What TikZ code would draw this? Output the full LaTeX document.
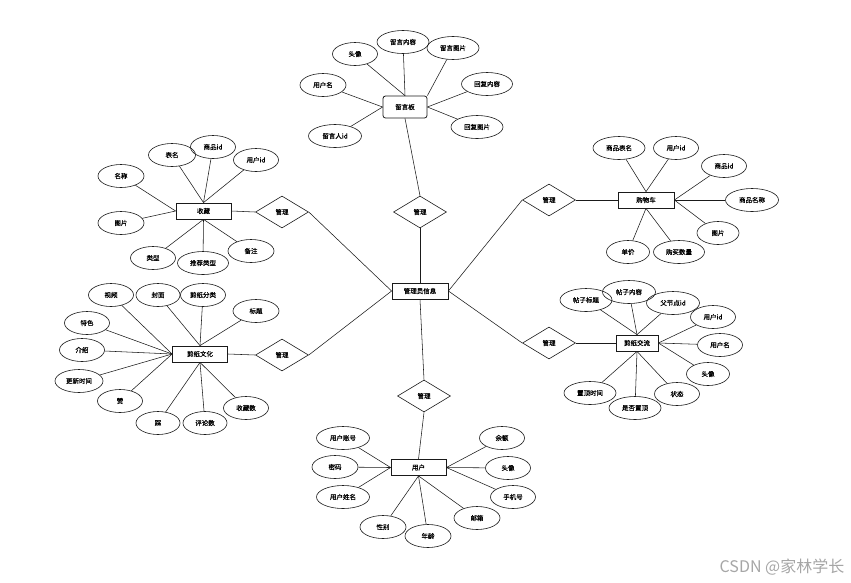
\documentclass[tikz,border=0pt]{standalone}
\usepackage{fontspec}
\newfontfamily\cjk{Noto Sans CJK SC}
\newfontfamily\cjkb[FakeBold=0.6]{Noto Sans CJK SC}
\usetikzlibrary{shapes.geometric}
\definecolor{cEdge}{HTML}{1A1A1A}
\definecolor{cMark}{HTML}{A6A6A6}
\newcommand{\erfont}{\cjkb\fontsize{6.5}{7}\selectfont}
\tikzset{
  ent/.style={draw=cEdge, line width=0.8pt, minimum width=55pt, minimum height=16pt,
              inner sep=0pt, font=\erfont},
  rel/.style={draw=cEdge, diamond, line width=0.6pt, minimum width=53pt,
              minimum height=32pt, inner sep=0pt, font=\erfont},
  attr/.style={draw=cEdge, ellipse, line width=0.6pt, minimum width=45pt,
               minimum height=23pt, inner sep=0pt, font=\erfont},
  link/.style={draw=cEdge, line width=0.55pt},
}

\begin{document}
\begin{tikzpicture}[x=1pt, y=-1pt]
\useasboundingbox (0,0) rectangle (851,582);

% ========== ENTITIES ==========
\node[ent, minimum width=56pt] (admin) at (420,291) {管理员信息};
\node[ent, rounded corners=2.5pt, minimum width=44pt, minimum height=22pt] (msg) at (405,107) {留言板};
\node[ent] (fav)  at (203.5,211) {收藏};
\node[ent, minimum width=56pt] (cart) at (646,200) {购物车};
\node[ent] (art)  at (200,354) {剪纸文化};
\node[ent, minimum width=42pt] (talk) at (637,343) {剪纸交流};
\node[ent] (user) at (418.5,467.5) {用户};

% ========== RELATIONS ==========
\node[rel] (rMsg)  at (420,212) {管理};
\node[rel] (rFav)  at (282,212) {管理};
\node[rel] (rArt)  at (282,355) {管理};
\node[rel] (rCart) at (549,200) {管理};
\node[rel] (rTalk) at (549,343) {管理};
\node[rel] (rUser) at (424,396) {管理};

\draw[link] (admin.north) -- (rMsg.south);
\draw[link] (rMsg.north)  -- (msg.south);
\draw[link] (admin.west)  -- (rFav.east);
\draw[link] (rFav.west)   -- (fav.east);
\draw[link] (admin.west)  -- (rArt.east);
\draw[link] (rArt.west)   -- (art.east);
\draw[link] (admin.east)  -- (rCart.west);
\draw[link] (rCart.east)  -- (cart.west);
\draw[link] (admin.east)  -- (rTalk.west);
\draw[link] (rTalk.east)  -- (talk.west);
\draw[link] (admin.south) -- (rUser.north);
\draw[link] (rUser.south) -- (user.north);

% ========== ATTRIBUTES ==========
% 留言板
\foreach \x/\y/\w/\t/\a [count=\i] in {355/54/45/头像/north, 403/42/52/留言内容/north,
    453/48/52/留言图片/north east, 487/84/51/回复内容/east, 477/127/52/回复图片/east,
    323/85/46/用户名/west, 335/136/53/留言人id/west} {
  \node[attr, minimum width=\w pt] (msgA\i) at (\x,\y) {\t};
  \draw[link] (msg.\a) -- (msgA\i);
}

% 收藏
\foreach \x/\y/\w/\t/\a [count=\i] in {172/155/47/表名/north, 213/147/45/商品id/north,
    256/160/45/用户id/north, 121/176/46/名称/west, 121/223/46/图片/west,
    153/258/45/类型/south, 203/263/51/推荐类型/south, 251/251/46/备注/south} {
  \node[attr, minimum width=\w pt] (favA\i) at (\x,\y) {\t};
  \draw[link] (fav.\a) -- (favA\i);
}

% 购物车
\foreach \x/\y/\w/\t/\a [count=\i] in {619/148/52/商品表名/north, 676/148/45/用户id/north,
    724/166/45/商品id/east, 752/200/53/商品名称/east, 718/233/42/图片/east,
    628/252/43/单价/south, 679/252/51/购买数量/south} {
  \node[attr, minimum width=\w pt] (cartA\i) at (\x,\y) {\t};
  \draw[link] (cart.\a) -- (cartA\i);
}

% 剪纸文化
\foreach \x/\y/\w/\t/\a [count=\i] in {111/295/45/视频/west, 158/295/44/封面/north,
    203/295/45/剪纸分类/north, 256/311/46/标题/north, 87/323/45/特色/west,
    82/350/45/介绍/west, 79/381/48/更新时间/west, 120/401/45/赞/west,
    158/423/44/踩/south, 205/423/44/评论数/south, 246/408/45/收藏数/south} {
  \node[attr, minimum width=\w pt] (artA\i) at (\x,\y) {\t};
  \draw[link] (art.\a) -- (artA\i);
}

% 剪纸交流
\foreach \x/\y/\w/\t/\a [count=\i] in {586/300/52/帖子标题/north, 629/292/53/帖子内容/north,
    673/303/53/父节点id/north, 713/317/45/用户id/east, 720/345/45/用户名/east,
    708/374/43/头像/east, 590/393/52/置顶时间/south, 635/408/52/是否置顶/south,
    677/394/45/状态/south} {
  \node[attr, minimum width=\w pt] (talkA\i) at (\x,\y) {\t};
  \draw[link] (talk.\a) -- (talkA\i);
}

% 用户
\foreach \x/\y/\w/\t/\a [count=\i] in {343/438/53/用户账号/west, 335/467/46/密码/west,
    343/497/53/用户姓名/west, 383/527/46/性别/south, 428/536/46/年龄/south,
    477/518/46/邮箱/south, 513/497/45/手机号/east, 508/468/45/头像/east,
    502/438/45/余额/east} {
  \node[attr, minimum width=\w pt] (userA\i) at (\x,\y) {\t};
  \draw[link] (user.\a) -- (userA\i);
}

\node[font=\cjk\fontsize{16}{18}\selectfont, text=cMark] (mark) at (782,567) {CSDN @家林学长};

\end{tikzpicture}
\end{document}
